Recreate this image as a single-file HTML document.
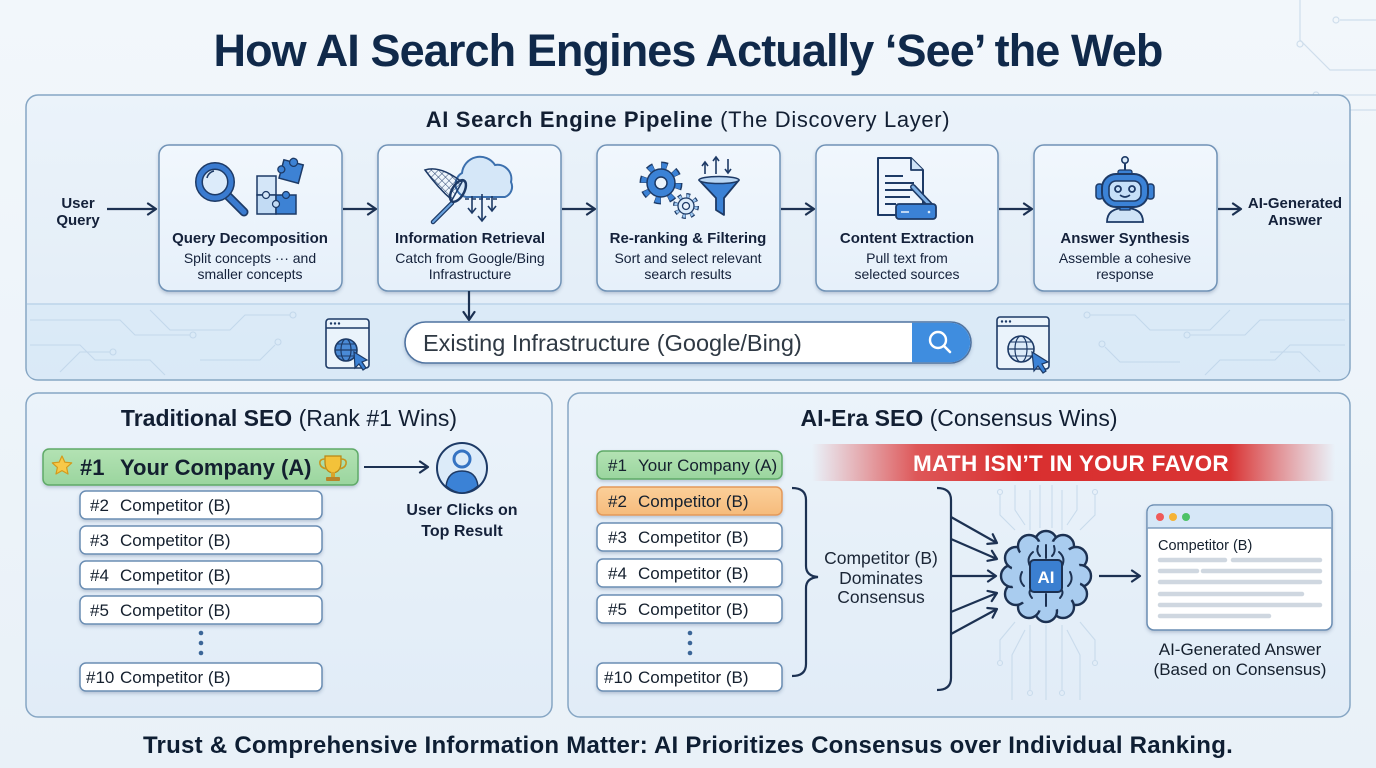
<!DOCTYPE html>
<html><head><meta charset="utf-8">
<style>
html,body{margin:0;padding:0;width:1376px;height:768px;overflow:hidden;background:#eef4f9;}
svg{display:block;font-family:"Liberation Sans",Arial,sans-serif;}
</style></head><body>
<svg width="1376" height="768" viewBox="0 0 1376 768" xmlns="http://www.w3.org/2000/svg">
<defs>
 <linearGradient id="bg" x1="0" y1="0" x2="0" y2="1"><stop offset="0" stop-color="#f2f7fb"/><stop offset="1" stop-color="#e9f1f8"/></linearGradient>
 <linearGradient id="panel" x1="0" y1="0" x2="0" y2="1"><stop offset="0" stop-color="#ebf3fa"/><stop offset="1" stop-color="#e1ecf7"/></linearGradient>
 <linearGradient id="box" x1="0" y1="0" x2="0" y2="1"><stop offset="0" stop-color="#f1f7fd"/><stop offset="1" stop-color="#e6f0fa"/></linearGradient>
 <linearGradient id="red" x1="0" y1="0" x2="1" y2="0">
  <stop offset="0" stop-color="#e04545" stop-opacity="0"/>
  <stop offset="0.2" stop-color="#dc3c3c" stop-opacity="0.85"/>
  <stop offset="0.4" stop-color="#d92f2f"/>
  <stop offset="0.8" stop-color="#d93434"/>
  <stop offset="1" stop-color="#e05050" stop-opacity="0"/>
 </linearGradient>
 <linearGradient id="green" x1="0" y1="0" x2="0" y2="1"><stop offset="0" stop-color="#b3e2b3"/><stop offset="1" stop-color="#9ad59e"/></linearGradient>
 <linearGradient id="orange" x1="0" y1="0" x2="0" y2="1"><stop offset="0" stop-color="#fbcf98"/><stop offset="1" stop-color="#f6bb7c"/></linearGradient>
 <filter id="sh" x="-10%" y="-10%" width="120%" height="130%"><feDropShadow dx="0" dy="2" stdDeviation="1.6" flood-color="#2a4a70" flood-opacity="0.25"/></filter>
 <marker id="ah" markerUnits="userSpaceOnUse" markerWidth="14" markerHeight="14" refX="11" refY="7" orient="auto">
  <path d="M3,1.5 L11,7 L3,12.5" fill="none" stroke="#1c3152" stroke-width="2.2" stroke-linecap="round" stroke-linejoin="round"/>
 </marker>
 <pattern id="mesh" width="5" height="5" patternUnits="userSpaceOnUse" patternTransform="rotate(45)">
  <path d="M0,0 V5 M0,0 H5" stroke="#1d3a66" stroke-width="0.9"/>
 </pattern>
</defs>

<rect width="1376" height="768" fill="url(#bg)"/>

<g stroke="#cfdeec" stroke-width="1.2" fill="none">
 <path d="M1300,0 V40 L1330,70 H1376"/><circle cx="1300" cy="44" r="3"/>
 <path d="M1340,20 H1376"/><circle cx="1336" cy="20" r="3"/>
 <path d="M1270,140 L1300,110 H1376"/>
 <path d="M1320,95 H1376"/><circle cx="1316" cy="95" r="3"/>
</g>

<text x="688" y="66" text-anchor="middle" font-size="45" font-weight="bold" fill="#10294a" letter-spacing="-0.9">How AI Search Engines Actually ‘See’ the Web</text>

<rect x="26" y="95" width="1324" height="285" rx="12" fill="url(#panel)" stroke="#86a6c4" stroke-width="1.5"/>
<path d="M27,304 H1349 V368 Q1349,379 1338,379 H38 Q27,379 27,368 Z" fill="#d8e8f6" opacity="0.8"/>
<line x1="27" y1="304" x2="1349" y2="304" stroke="#bcd4ea" stroke-width="1.5"/>
<g stroke="#c3d8eb" stroke-width="1.1" fill="none">
 <path d="M30,320 H120 L135,335 H190"/><circle cx="193" cy="335" r="3"/>
 <path d="M30,345 H80 L95,360 H150 L165,375"/>
 <path d="M60,372 L80,352 H110"/><circle cx="113" cy="352" r="3"/>
 <path d="M150,310 L170,330 H230 L245,315 H290"/><circle cx="293" cy="315" r="3"/>
 <path d="M200,360 H260 L275,345"/><circle cx="278" cy="342" r="3"/>
 <path d="M1345,320 H1260 L1245,335 H1190"/><circle cx="1187" cy="335" r="3"/>
 <path d="M1345,345 H1290 L1275,360 H1220 L1205,375"/>
 <path d="M1230,310 L1210,330 H1150 L1135,315 H1090"/><circle cx="1087" cy="315" r="3"/>
 <path d="M1180,362 H1120 L1105,347"/><circle cx="1102" cy="344" r="3"/>
 <path d="M1320,372 L1300,352 H1270"/>
</g>

<text x="688" y="127" text-anchor="middle" font-size="22" fill="#121f33" letter-spacing="0.65"><tspan font-weight="bold">AI Search Engine Pipeline</tspan> (The Discovery Layer)</text>

<g filter="url(#sh)" fill="url(#box)" stroke="#6f92b6" stroke-width="1.5">
 <rect x="159" y="145" width="183" height="146" rx="10"/>
 <rect x="378" y="145" width="183" height="146" rx="10"/>
 <rect x="597" y="145" width="183" height="146" rx="10"/>
 <rect x="816" y="145" width="182" height="146" rx="10"/>
 <rect x="1034" y="145" width="183" height="146" rx="10"/>
</g>

<g text-anchor="middle" fill="#14213a">
 <text x="250" y="243" font-size="15" font-weight="bold">Query Decomposition</text>
 <text x="250" y="263" font-size="14">Split concepts ··· and</text>
 <text x="250" y="279" font-size="14">smaller concepts</text>
 <text x="470" y="243" font-size="15" font-weight="bold">Information Retrieval</text>
 <text x="470" y="263" font-size="14">Catch from Google/Bing</text>
 <text x="470" y="279" font-size="14">Infrastructure</text>
 <text x="688" y="243" font-size="15" font-weight="bold">Re-ranking &amp; Filtering</text>
 <text x="688" y="263" font-size="14">Sort and select relevant</text>
 <text x="688" y="279" font-size="14">search results</text>
 <text x="907" y="243" font-size="15" font-weight="bold">Content Extraction</text>
 <text x="907" y="263" font-size="14">Pull text from</text>
 <text x="907" y="279" font-size="14">selected sources</text>
 <text x="1125" y="243" font-size="15" font-weight="bold">Answer Synthesis</text>
 <text x="1125" y="263" font-size="14">Assemble a cohesive</text>
 <text x="1125" y="279" font-size="14">response</text>
 <text x="78" y="208" font-size="15" font-weight="bold">User</text>
 <text x="78" y="225" font-size="15" font-weight="bold">Query</text>
 <text x="1295" y="208" font-size="15" font-weight="bold">AI-Generated</text>
 <text x="1295" y="225" font-size="15" font-weight="bold">Answer</text>
</g>

<g stroke="#1c3152" stroke-width="2.2" marker-end="url(#ah)">
 <line x1="107" y1="209" x2="156" y2="209"/>
 <line x1="343" y1="209" x2="376" y2="209"/>
 <line x1="562" y1="209" x2="595" y2="209"/>
 <line x1="781" y1="209" x2="814" y2="209"/>
 <line x1="999" y1="209" x2="1032" y2="209"/>
 <line x1="1218" y1="209" x2="1241" y2="209"/>
 <line x1="469" y1="291" x2="469" y2="320"/>
</g>

<!-- Icon 1 -->
<g>
 <line x1="228" y1="196" x2="244" y2="212" stroke="#1d3a66" stroke-width="9" stroke-linecap="round"/>
 <line x1="228" y1="196" x2="244" y2="212" stroke="#3a7bd0" stroke-width="5.5" stroke-linecap="round"/>
 <circle cx="215" cy="182" r="16" fill="#dcebfa" stroke="#1d3a66" stroke-width="8"/>
 <circle cx="215" cy="182" r="16" fill="none" stroke="#3a7bd0" stroke-width="5"/>
 <path d="M207,178 a9,9 0 0 1 7,-7" stroke="#1d3a66" stroke-width="1.5" fill="none"/>
 <rect x="257" y="176" width="19" height="19" fill="#d4e6f8" stroke="#1d3a66" stroke-width="1.5"/>
 <rect x="257" y="195" width="19" height="19" fill="#c2dbf4" stroke="#1d3a66" stroke-width="1.5"/>
 <rect x="276" y="195" width="20" height="19" fill="#3d82d4" stroke="#1d3a66" stroke-width="1.5"/>
 <circle cx="276" cy="204" r="3.5" fill="#c2dbf4" stroke="#1d3a66" stroke-width="1.2"/>
 <circle cx="266" cy="195" r="3.5" fill="#d4e6f8" stroke="#1d3a66" stroke-width="1.2"/>
 <circle cx="286" cy="195" r="3.5" fill="#3d82d4" stroke="#1d3a66" stroke-width="1.2"/>
 <g transform="rotate(15 291 172)">
  <rect x="281" y="162" width="20" height="19" fill="#3d82d4" stroke="#1d3a66" stroke-width="1.5"/>
  <circle cx="291" cy="162" r="4" fill="#3d82d4" stroke="#1d3a66" stroke-width="1.3"/>
  <circle cx="281" cy="172" r="3.5" fill="#3d82d4" stroke="#1d3a66" stroke-width="1.3"/>
 </g>
</g>

<!-- Icon 2 -->
<g>
 <path d="M466,197 a13,13 0 0 1 -4,-24 a18,18 0 0 1 33,-8 a14,14 0 0 1 16,17 a11,11 0 0 1 -6,15 Z" fill="#d5e7f8" stroke="#3c70ae" stroke-width="2"/>
 <g stroke="#1d3a66" stroke-width="1.6" fill="none">
  <line x1="472" y1="196" x2="472" y2="212"/><path d="M468,208 L472,213 L476,208"/>
  <line x1="482" y1="194" x2="482" y2="220"/><path d="M478,216 L482,221 L486,216"/>
  <line x1="492" y1="196" x2="492" y2="210"/><path d="M488,206 L492,211 L496,206"/>
  <line x1="465" y1="199" x2="500" y2="199" stroke-dasharray="4 3"/>
 </g>
 <line x1="452" y1="203" x2="433" y2="222" stroke="#1d3a66" stroke-width="4.5" stroke-linecap="round"/>
 <line x1="452" y1="203" x2="433" y2="222" stroke="#6aa3e0" stroke-width="2" stroke-linecap="round"/>
 <path d="M425,170 Q440,165 462,182 L452,200 Q438,188 425,170 Z" fill="url(#mesh)" stroke="#1d3a66" stroke-width="1.5"/>
 <ellipse cx="458" cy="191" rx="6" ry="12" transform="rotate(30 458 191)" fill="none" stroke="#1d3a66" stroke-width="2.5"/>
</g>

<!-- Icon 3 -->
<g>
 <circle cx="661" cy="183" r="17" fill="none" stroke="#1d3a66" stroke-width="9" stroke-dasharray="6 7.35"/>
 <circle cx="661" cy="183" r="17" fill="none" stroke="#3b82d6" stroke-width="6" stroke-dasharray="5 8.35" stroke-dashoffset="-0.5"/>
 <circle cx="661" cy="183" r="14" fill="#3b82d6" stroke="#1d3a66" stroke-width="1.5"/>
 <circle cx="661" cy="183" r="6" fill="#eaf3fc" stroke="#1d3a66" stroke-width="1.5"/>
 <circle cx="686" cy="206" r="10" fill="none" stroke="#1d3a66" stroke-width="6" stroke-dasharray="3.5 4.35"/>
 <circle cx="686" cy="206" r="10" fill="none" stroke="#9cc6f0" stroke-width="3.5" stroke-dasharray="2.5 5.35" stroke-dashoffset="-0.5"/>
 <circle cx="686" cy="206" r="8" fill="#dcecfb" stroke="#1d3a66" stroke-width="1.3"/>
 <circle cx="686" cy="206" r="3.5" fill="#eaf3fc" stroke="#1d3a66" stroke-width="1.3"/>
 <path d="M699,180 H739 L724,198 V215 L716,210 V198 Z" fill="#3b82d6" stroke="#1d3a66" stroke-width="1.8" stroke-linejoin="round"/>
 <ellipse cx="719" cy="180" rx="20" ry="3.5" fill="#b9d6f3" stroke="#1d3a66" stroke-width="1.5"/>
 <g stroke="#1d3a66" stroke-width="1.6" fill="none">
  <line x1="705" y1="174" x2="705" y2="163"/><path d="M702,166 L705,162 L708,166"/>
  <line x1="716" y1="174" x2="716" y2="158"/><path d="M713,161 L716,157 L719,161"/>
  <line x1="728" y1="159" x2="728" y2="172"/><path d="M725,169 L728,173 L731,169"/>
 </g>
</g>

<!-- Icon 4 -->
<g>
 <path d="M878,158 H911 L923,170 V215 H878 Z" fill="#eef5fd" stroke="#1d3a66" stroke-width="2" stroke-linejoin="round"/>
 <path d="M911,158 V170 H923" fill="#cfe3f7" stroke="#1d3a66" stroke-width="1.8" stroke-linejoin="round"/>
 <g stroke="#1d3a66" stroke-width="2"><line x1="885" y1="176" x2="903" y2="176"/><line x1="885" y1="183" x2="914" y2="183"/><line x1="885" y1="190" x2="914" y2="190"/><line x1="885" y1="197" x2="910" y2="197"/><line x1="885" y1="204" x2="896" y2="204"/></g>
 <line x1="913" y1="187" x2="931" y2="206" stroke="#1d3a66" stroke-width="6" stroke-linecap="round"/>
 <line x1="913" y1="187" x2="931" y2="206" stroke="#7fb1e6" stroke-width="3" stroke-linecap="round"/>
 <rect x="896" y="204" width="40" height="15" rx="3" fill="#3b82d6" stroke="#1d3a66" stroke-width="1.8"/>
 <line x1="901" y1="212" x2="909" y2="212" stroke="#dcecfb" stroke-width="1.6"/>
 <circle cx="929" cy="212" r="1.3" fill="#dcecfb"/>
</g>

<!-- Icon 5 -->
<g>
 <line x1="1125" y1="163" x2="1125" y2="172" stroke="#1d3a66" stroke-width="2"/>
 <circle cx="1125" cy="160" r="3.2" fill="#dcecfb" stroke="#1d3a66" stroke-width="1.6"/>
 <rect x="1118" y="170" width="14" height="5" rx="2" fill="#3b82d6" stroke="#1d3a66" stroke-width="1.3"/>
 <rect x="1096" y="184" width="7" height="15" rx="3" fill="#3b82d6" stroke="#1d3a66" stroke-width="1.5"/>
 <rect x="1147" y="184" width="7" height="15" rx="3" fill="#3b82d6" stroke="#1d3a66" stroke-width="1.5"/>
 <path d="M1107,222 Q1107,208 1125,208 Q1143,208 1143,222 Z" fill="#cfe3f7" stroke="#1d3a66" stroke-width="1.8"/>
 <rect x="1120" y="204" width="10" height="6" fill="#3b82d6" stroke="#1d3a66" stroke-width="1.3"/>
 <rect x="1102" y="174" width="46" height="33" rx="14" fill="#3b82d6" stroke="#1d3a66" stroke-width="2"/>
 <rect x="1109" y="181" width="32" height="20" rx="7" fill="#c6e0f8" stroke="#1d3a66" stroke-width="1.6"/>
 <circle cx="1118" cy="189" r="3" fill="none" stroke="#1d3a66" stroke-width="1.8"/>
 <circle cx="1132" cy="189" r="3" fill="none" stroke="#1d3a66" stroke-width="1.8"/>
 <path d="M1120,195 Q1125,199 1130,195" fill="none" stroke="#1d3a66" stroke-width="1.6"/>
</g>

<!-- Search bar -->
<rect x="405" y="322" width="566" height="41" rx="20.5" fill="#ffffff" stroke="#4f73a0" stroke-width="1.6" filter="url(#sh)"/>
<path d="M912,322.8 H950.5 A19.7,19.7 0 0 1 950.5,362.2 H912 Z" fill="#3f8ddf"/>
<circle cx="938" cy="340" r="8" fill="none" stroke="#ffffff" stroke-width="2.4"/>
<line x1="944" y1="346" x2="950" y2="352" stroke="#ffffff" stroke-width="2.6" stroke-linecap="round"/>
<text x="423" y="351" font-size="23.5" fill="#2f3944">Existing Infrastructure (Google/Bing)</text>

<g>
 <rect x="326" y="319" width="43" height="49" rx="3" fill="#eaf3fb" stroke="#1d3a66" stroke-width="1.6"/>
 <line x1="326" y1="328" x2="369" y2="328" stroke="#1d3a66" stroke-width="1.5"/>
 <circle cx="331" cy="323.5" r="1.2" fill="#1d3a66"/><circle cx="335" cy="323.5" r="1.2" fill="#1d3a66"/><circle cx="339" cy="323.5" r="1.2" fill="#1d3a66"/>
 <circle cx="346" cy="350" r="11" fill="#4a8ad6" stroke="#1d3a66" stroke-width="1.6"/>
 <ellipse cx="346" cy="350" rx="5" ry="11" fill="none" stroke="#1d3a66" stroke-width="1.2"/>
 <line x1="335" y1="350" x2="357" y2="350" stroke="#1d3a66" stroke-width="1.2"/>
 <line x1="337" y1="344" x2="355" y2="344" stroke="#1d3a66" stroke-width="1"/>
 <line x1="337" y1="356" x2="355" y2="356" stroke="#1d3a66" stroke-width="1"/>
 <path d="M354,352 L355,368 L359,364 L363,370 L366,368 L362,362 L367,360 Z" fill="#3b82d6" stroke="#1d3a66" stroke-width="1.2"/>
</g>
<g>
 <rect x="997" y="317" width="52" height="52" rx="3" fill="#eaf3fb" stroke="#1d3a66" stroke-width="1.6"/>
 <line x1="997" y1="326" x2="1049" y2="326" stroke="#1d3a66" stroke-width="1.5"/>
 <circle cx="1002" cy="321.5" r="1.2" fill="#1d3a66"/><circle cx="1006" cy="321.5" r="1.2" fill="#1d3a66"/><circle cx="1010" cy="321.5" r="1.2" fill="#1d3a66"/>
 <circle cx="1021" cy="349" r="13" fill="#dcebf9" stroke="#1d3a66" stroke-width="1.6"/>
 <ellipse cx="1021" cy="349" rx="6" ry="13" fill="none" stroke="#1d3a66" stroke-width="1.2"/>
 <line x1="1008" y1="349" x2="1034" y2="349" stroke="#1d3a66" stroke-width="1.2"/>
 <line x1="1010" y1="342" x2="1032" y2="342" stroke="#1d3a66" stroke-width="1"/>
 <line x1="1010" y1="356" x2="1032" y2="356" stroke="#1d3a66" stroke-width="1"/>
 <path d="M1032,352 L1034,371 L1038,366 L1043,373 L1046,371 L1042,364 L1048,362 Z" fill="#3b82d6" stroke="#1d3a66" stroke-width="1.2"/>
</g>

<!-- BOTTOM LEFT PANEL -->
<rect x="26" y="393" width="526" height="324" rx="12" fill="url(#panel)" stroke="#86a6c4" stroke-width="1.5"/>
<text x="289" y="426" text-anchor="middle" font-size="23" fill="#121f33"><tspan font-weight="bold">Traditional SEO</tspan> (Rank #1 Wins)</text>

<rect x="43" y="449" width="315" height="36" rx="6" fill="url(#green)" stroke="#5faa68" stroke-width="1.5" filter="url(#sh)"/>
<path d="M62,456 L64.9,462.2 L71.7,462.9 L66.6,467.4 L68,474 L62,470.6 L56,474 L57.4,467.4 L52.3,462.9 L59.1,462.2 Z" fill="#f7c948" stroke="#d49a1c" stroke-width="1.2" stroke-linejoin="round"/>
<text y="475" font-size="22" font-weight="bold" fill="#13202f"><tspan x="80">#1</tspan><tspan x="120">Your Company (A)</tspan></text>
<g>
 <path d="M325,456 H341 V462 Q341,472 333,473 Q325,472 325,462 Z" fill="#f3c23a" stroke="#b98614" stroke-width="1.2"/>
 <path d="M325,459 Q319,459 320,464 Q321,468 327,469 M341,459 Q347,459 346,464 Q345,468 339,469" fill="none" stroke="#c9961c" stroke-width="1.6"/>
 <rect x="331" y="472" width="4" height="5" fill="#d9a52a"/>
 <rect x="326" y="477" width="14" height="4" rx="1" fill="#b9852a"/>
</g>
<line x1="364" y1="467" x2="428" y2="467" stroke="#1c3152" stroke-width="2" marker-end="url(#ah)"/>
<circle cx="462" cy="468" r="25" fill="#dcebf9" stroke="#1d3a66" stroke-width="2"/>
<circle cx="462" cy="459" r="8" fill="#dcebf9" stroke="#3573c2" stroke-width="3"/>
<path d="M446,486 Q448,471 462,471 Q476,471 478,486 Q470,493 462,493 Q454,493 446,486 Z" fill="#3b82d6" stroke="#1d3a66" stroke-width="1.5"/>
<text x="462" y="515" text-anchor="middle" font-size="16" font-weight="bold" fill="#14213a">User Clicks on</text>
<text x="462" y="536" text-anchor="middle" font-size="16" font-weight="bold" fill="#14213a">Top Result</text>

<g fill="#ffffff" stroke="#6a8db3" stroke-width="1.5" filter="url(#sh)">
 <rect x="80" y="491" width="242" height="28" rx="6"/>
 <rect x="80" y="526" width="242" height="28" rx="6"/>
 <rect x="80" y="561" width="242" height="28" rx="6"/>
 <rect x="80" y="596" width="242" height="28" rx="6"/>
 <rect x="80" y="663" width="242" height="28" rx="6"/>
</g>
<g font-size="17" fill="#15202e">
 <text y="511"><tspan x="90">#2</tspan><tspan x="120">Competitor (B)</tspan></text>
 <text y="546"><tspan x="90">#3</tspan><tspan x="120">Competitor (B)</tspan></text>
 <text y="581"><tspan x="90">#4</tspan><tspan x="120">Competitor (B)</tspan></text>
 <text y="616"><tspan x="90">#5</tspan><tspan x="120">Competitor (B)</tspan></text>
 <text y="683"><tspan x="86">#10</tspan><tspan x="120">Competitor (B)</tspan></text>
</g>
<g fill="#3c6698"><circle cx="201" cy="633" r="2.3"/><circle cx="201" cy="643" r="2.3"/><circle cx="201" cy="653" r="2.3"/></g>

<!-- BOTTOM RIGHT PANEL -->
<rect x="568" y="393" width="782" height="324" rx="12" fill="url(#panel)" stroke="#86a6c4" stroke-width="1.5"/>
<text x="959" y="426" text-anchor="middle" font-size="23" fill="#121f33"><tspan font-weight="bold">AI-Era SEO</tspan> (Consensus Wins)</text>

<g stroke="#c9dbec" stroke-width="1.1" fill="none">
 <path d="M1000,495 V515 L1015,530"/><circle cx="1000" cy="492" r="2.5"/>
 <path d="M1015,485 V510 L1025,525"/>
 <path d="M1030,490 V530"/><path d="M1040,485 V528"/><path d="M1052,485 V528"/><path d="M1062,490 V530"/>
 <path d="M1077,485 V510 L1067,525"/>
 <path d="M1095,495 V515 L1080,530"/><circle cx="1095" cy="492" r="2.5"/>
 <path d="M1000,660 V640 L1015,622"/><circle cx="1000" cy="663" r="2.5"/>
 <path d="M1012,700 V655 L1025,630"/>
 <path d="M1030,690 V625"/><circle cx="1030" cy="693" r="2.5"/>
 <path d="M1046,700 V625"/>
 <path d="M1062,690 V625"/><circle cx="1062" cy="693" r="2.5"/>
 <path d="M1080,700 V655 L1067,630"/>
 <path d="M1095,660 V640 L1080,622"/><circle cx="1095" cy="663" r="2.5"/>
</g>

<rect x="812" y="444" width="523" height="37" fill="url(#red)"/>
<text x="1071" y="471" text-anchor="middle" font-size="22.5" font-weight="bold" fill="#ffffff" letter-spacing="0.3">MATH ISN’T IN YOUR FAVOR</text>

<rect x="597" y="451" width="185" height="28" rx="6" fill="url(#green)" stroke="#5faa68" stroke-width="1.5" filter="url(#sh)"/>
<rect x="597" y="487" width="185" height="28" rx="6" fill="url(#orange)" stroke="#e3995a" stroke-width="1.5" filter="url(#sh)"/>
<g fill="#ffffff" stroke="#6a8db3" stroke-width="1.5" filter="url(#sh)">
 <rect x="597" y="523" width="185" height="28" rx="6"/>
 <rect x="597" y="559" width="185" height="28" rx="6"/>
 <rect x="597" y="595" width="185" height="28" rx="6"/>
 <rect x="597" y="663" width="185" height="28" rx="6"/>
</g>
<g font-size="17" fill="#15202e">
 <text y="471"><tspan x="608">#1</tspan><tspan x="638">Your Company (A)</tspan></text>
 <text y="507"><tspan x="608">#2</tspan><tspan x="638">Competitor (B)</tspan></text>
 <text y="543"><tspan x="608">#3</tspan><tspan x="638">Competitor (B)</tspan></text>
 <text y="579"><tspan x="608">#4</tspan><tspan x="638">Competitor (B)</tspan></text>
 <text y="615"><tspan x="608">#5</tspan><tspan x="638">Competitor (B)</tspan></text>
 <text y="683"><tspan x="604">#10</tspan><tspan x="638">Competitor (B)</tspan></text>
</g>
<g fill="#3c6698"><circle cx="690" cy="633" r="2.3"/><circle cx="690" cy="643" r="2.3"/><circle cx="690" cy="653" r="2.3"/></g>

<path d="M792,488 Q806,488 806,500 V566 Q806,576 818,577 Q806,578 806,588 V664 Q806,676 792,676" fill="none" stroke="#1c3152" stroke-width="2.2"/>
<path d="M937,488 Q951,488 951,500 V678 Q951,690 937,690" fill="none" stroke="#1c3152" stroke-width="2.2"/>
<g text-anchor="middle" font-size="17.5" fill="#1b2636">
 <text x="881" y="564">Competitor (B)</text>
 <text x="881" y="584">Dominates</text>
 <text x="881" y="603">Consensus</text>
</g>

<g stroke="#1c3152" stroke-width="2.2" marker-end="url(#ah)">
 <line x1="951" y1="517" x2="997" y2="543"/>
 <line x1="951" y1="539" x2="997" y2="559"/>
 <line x1="951" y1="576" x2="996" y2="576"/>
 <line x1="951" y1="612" x2="997" y2="593"/>
 <line x1="951" y1="634" x2="997" y2="609"/>
 <line x1="1099" y1="576" x2="1140" y2="576"/>
</g>

<g>
 <g fill="#a9ccef" stroke="#1c3152" stroke-width="2.4">
  <circle cx="1046" cy="542" r="11"/>
  <circle cx="1063" cy="546" r="11"/>
  <circle cx="1076" cy="558" r="11"/>
  <circle cx="1080" cy="576" r="11"/>
  <circle cx="1076" cy="594" r="11"/>
  <circle cx="1063" cy="607" r="11"/>
  <circle cx="1046" cy="611" r="11"/>
  <circle cx="1029" cy="607" r="11"/>
  <circle cx="1016" cy="594" r="11"/>
  <circle cx="1012" cy="576" r="11"/>
  <circle cx="1016" cy="558" r="11"/>
  <circle cx="1029" cy="546" r="11"/>
 </g>
 <ellipse cx="1046" cy="576" rx="35" ry="35" fill="#a9ccef"/>
 <g fill="none" stroke="#1c3152" stroke-width="2" stroke-linecap="round">
  <path d="M1046,545 V558"/><path d="M1046,594 V606"/>
  <path d="M1033,552 Q1026,558 1030,566"/><path d="M1059,552 Q1066,558 1062,566"/>
  <path d="M1022,572 Q1018,580 1024,586"/><path d="M1070,572 Q1074,580 1068,586"/>
  <path d="M1032,598 Q1027,592 1032,588"/><path d="M1060,598 Q1065,592 1060,588"/>
  <path d="M1038,546 Q1036,552 1040,556"/><path d="M1054,546 Q1056,552 1052,556"/>
 </g>
 <rect x="1030" y="560" width="32" height="32" rx="4" fill="#3b7fd0" stroke="#1c3152" stroke-width="2"/>
 <text x="1046" y="583" text-anchor="middle" font-size="17" font-weight="bold" fill="#ffffff">AI</text>
</g>

<g filter="url(#sh)">
 <rect x="1147" y="505" width="185" height="125" rx="7" fill="#ffffff" stroke="#6a8db3" stroke-width="1.5"/>
</g>
<path d="M1147.8,528 V512 Q1147.8,505.8 1154,505.8 H1325 Q1331.2,505.8 1331.2,512 V528 Z" fill="#d6e7f7"/>
<line x1="1147.8" y1="528" x2="1331.2" y2="528" stroke="#6a8db3" stroke-width="1.3"/>
<circle cx="1160" cy="517" r="4" fill="#ef5a5a"/>
<circle cx="1173" cy="517" r="4" fill="#f5b335"/>
<circle cx="1186" cy="517" r="4" fill="#4cc267"/>
<text x="1158" y="550" font-size="14.5" fill="#15202e">Competitor (B)</text>
<g stroke="#cfd7e0" stroke-width="4.5" stroke-linecap="round">
 <line x1="1160" y1="560" x2="1225" y2="560"/><line x1="1233" y1="560" x2="1320" y2="560"/>
 <line x1="1160" y1="571" x2="1197" y2="571"/><line x1="1203" y1="571" x2="1320" y2="571"/>
 <line x1="1160" y1="582" x2="1320" y2="582"/>
 <line x1="1160" y1="594" x2="1302" y2="594"/>
 <line x1="1160" y1="605" x2="1320" y2="605"/>
 <line x1="1160" y1="616" x2="1269" y2="616"/>
</g>
<text x="1240" y="655" text-anchor="middle" font-size="17" fill="#15202e">AI-Generated Answer</text>
<text x="1240" y="675" text-anchor="middle" font-size="17" fill="#15202e">(Based on Consensus)</text>

<text x="688" y="753" text-anchor="middle" font-size="24" font-weight="bold" fill="#0e1e33" letter-spacing="0.25">Trust &amp; Comprehensive Information Matter: AI Prioritizes Consensus over Individual Ranking.</text>
</svg>
</body></html>
